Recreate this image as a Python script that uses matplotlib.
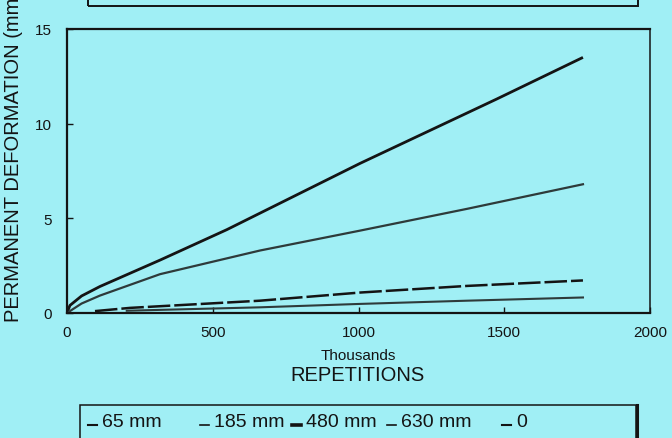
import matplotlib
matplotlib.use("Agg")
import matplotlib.pyplot as plt
from matplotlib.lines import Line2D
from matplotlib.patches import Rectangle

BG = "#a0eff5"
INK = "#141414"
plt.rcParams.update({"font.family": ["Liberation Sans", "DejaVu Sans"]})

# data (repetitions in thousands, deformation in mm)
x_65 = [0, 10, 50, 113, 320, 548, 1005, 1474, 1770]
y_65 = [0, 0.4, 0.9, 1.4, 2.8, 4.4, 7.9, 11.3, 13.5]
x_185 = [0, 50, 113, 319, 662, 1005, 1372, 1770]
y_185 = [0, 0.5, 0.92, 2.05, 3.3, 4.35, 5.5, 6.8]
x_480 = [96, 216, 662, 1005, 1372, 1770]
y_480 = [0.1, 0.27, 0.65, 1.08, 1.43, 1.72]
x_630 = [205, 662, 1005, 1372, 1770]
y_630 = [0.12, 0.3, 0.48, 0.65, 0.82]
legend_labels = ["65 mm", "185 mm", "480 mm", "630 mm", "0"]
xticks = [0, 500, 1000, 1500, 2000]
yticks = [0, 5, 10, 15]

W, H = 672, 439
fig = plt.figure(figsize=(W / 100, H / 100), dpi=100, facecolor=BG)
ax = fig.add_axes([67 / W, 1 - 314 / H, 583 / W, 284 / H], facecolor=BG)

ax.plot(x_65, y_65, color=INK, lw=2.0, solid_capstyle="butt")
ax.plot(x_185, y_185, color="#2e3a3a", lw=1.6)
ax.plot(x_480, y_480, color=INK, lw=1.8, dashes=(9, 1.6))
ax.plot(x_630, y_630, color="#2e3a3a", lw=1.5)

ax.set_xlim(0, 2000); ax.set_ylim(0, 15)
ax.set_xticks(xticks); ax.set_yticks(yticks)
ax.tick_params(direction="in", length=4, width=1, labelsize=11, colors=INK)
ax.tick_params(axis="y", pad=11)
ax.tick_params(axis="x", pad=9)
for s in ax.spines.values():
    s.set_linewidth(1.6); s.set_color(INK)
ax.spines["right"].set_linewidth(1.1)

fig.text(358 / W, 1 - 356 / H, "Thousands", ha="center", va="center", fontsize=11, color=INK)
fig.text(358 / W, 1 - 376 / H, "REPETITIONS", ha="center", va="center", fontsize=14.5, color=INK)
fig.text(14 / W, 1 - 322 / H, "PERMANENT DEFORMATION (mm)", rotation=90,
         ha="center", va="bottom", fontsize=14.5, color=INK)

# top legend box (cut off by the page edge)
fig.add_artist(Rectangle((88 / W, 1 - 7 / H), 550 / W, 30 / H, transform=fig.transFigure,
                         fill=False, lw=1.4, ec=INK, clip_on=False))
# bottom legend box
fig.add_artist(Rectangle((80 / W, -20 / H), 556 / W, (20 + 439 - 406) / H,
                         transform=fig.transFigure, fill=False, lw=1.1, ec=INK, clip_on=False))
fig.add_artist(Line2D([637 / W, 637 / W], [0, 1 - 406 / H], transform=fig.transFigure,
                      color=INK, lw=2.2))

mark_x = [88, 200, 292, 387, 502]
mark_w = [1.5, 1.2, 2.6, 1.2, 1.5]
for mx, lw, lab in zip(mark_x, mark_w, legend_labels):
    fig.add_artist(Line2D([mx / W, (mx + 9) / W], [1 - 426 / H] * 2, transform=fig.transFigure,
                          color=INK, lw=lw))
    fig.text((mx + 14) / W, 1 - 427 / H, lab, ha="left", va="baseline", fontsize=14, color=INK)

fig.savefig("out.png", dpi=100, facecolor=BG)
